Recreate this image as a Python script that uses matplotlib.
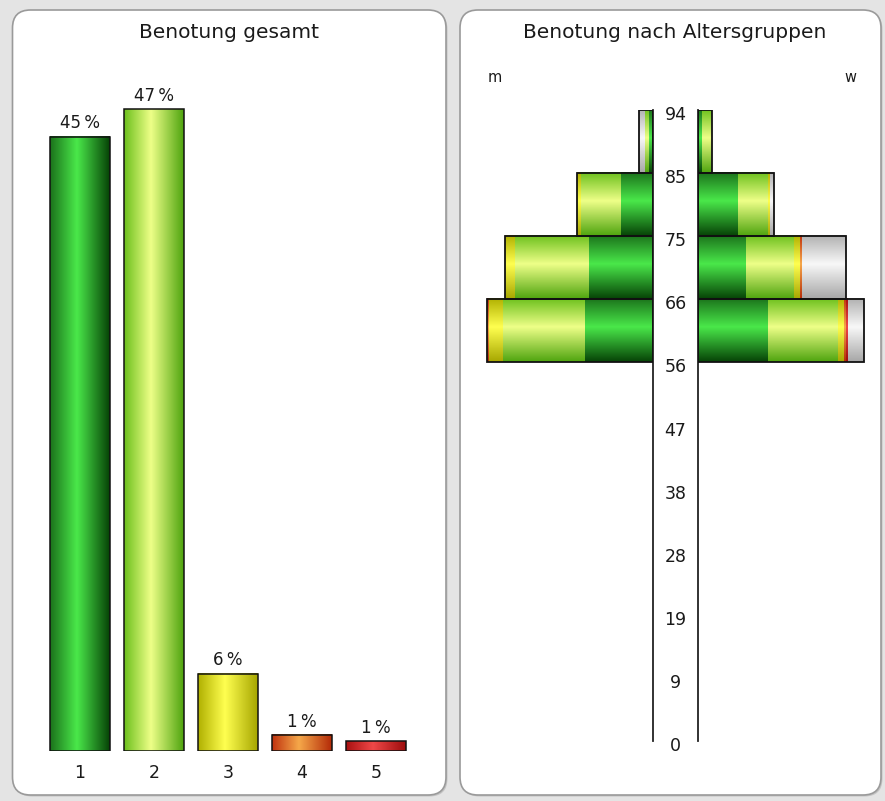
import numpy as np
import matplotlib
matplotlib.use('Agg')
import matplotlib.pyplot as plt
from matplotlib.colors import LinearSegmentedColormap
from matplotlib.patches import FancyBboxPatch, Rectangle
from matplotlib import transforms

# overall grade distribution (percent)
grades = ['1', '2', '3', '4', '5']
share_total = [45.2, 47.2, 5.7, 1.2, 0.7]

# age axis: 0..94 split into 10 bins, only the upper four are populated
age_max = 94
n_bins = 10
age_ticks = [0, 9, 19, 28, 38, 47, 56, 66, 75, 85, 94]
group_bins = [6, 7, 8, 9]

# counts per age group (bottom to top), one list per grade, "k" = no grade
m_g1 = [34, 32, 16, 2]
m_g2 = [41, 37, 20, 2]
m_g3 = [7, 5, 2, 0]
m_g4 = [1, 0, 0, 0]
m_g5 = [0, 0, 0, 0]
m_k = [0, 0, 0, 3]

w_g1 = [35, 24, 20, 2]
w_g2 = [35, 24, 15, 5]
w_g3 = [3, 3, 1, 0]
w_g4 = [1, 1, 0, 0]
w_g5 = [1, 0, 0, 0]
w_k = [8, 22, 2, 0]

# gradient stops per grade: edge, highlight, far edge
stops = {
    '1': ['#1b721b', '#4ae84a', '#064206'],
    '2': ['#6cc01c', '#eeff88', '#4ea40e'],
    '3': ['#b0b000', '#ffff50', '#a6a600'],
    '4': ['#c0320e', '#f6a84a', '#b42a08'],
    '5': ['#a81010', '#f04848', '#9c0c0c'],
    'k': ['#b0b0b0', '#f8f8f8', '#a6a6a6'],
}
cmaps = {k: LinearSegmentedColormap.from_list(k, list(zip([0, 0.45, 1], v)))
         for k, v in stops.items()}

TXT = '#1a1a1a'
W, H = 885, 801
fig = plt.figure(figsize=(W / 100, H / 100), dpi=100)
fig.patch.set_facecolor('#e4e4e4')

# pixel-space background axes for the two panels and titles
bg = fig.add_axes([0, 0, 1, 1])
bg.set_xlim(0, W)
bg.set_ylim(H, 0)
bg.axis('off')
bg.set_zorder(-1)
for x0, x1 in [(12.5, 446), (460, 881)]:
    sh = FancyBboxPatch((x0 + 1.5, 11.5), x1 - x0, 785, boxstyle='round,pad=0,rounding_size=18',
                        fc='#c4c4c4', ec='none')
    bg.add_patch(sh)
    p = FancyBboxPatch((x0, 10), x1 - x0, 785, boxstyle='round,pad=0,rounding_size=18',
                       fc='white', ec='#9a9a9a', lw=1.2)
    bg.add_patch(p)
bg.text(229, 33, 'Benotung gesamt', ha='center', va='center', fontsize=14.5, color=TXT)
bg.text(675, 33, 'Benotung nach Altersgruppen', ha='center', va='center', fontsize=14.5, color=TXT)
bg.text(495, 78, 'm', ha='center', va='center', fontsize=10.5, color=TXT)
bg.text(850, 78, 'w', ha='center', va='center', fontsize=10.5, color=TXT)


def grad_rect(ax, x0, x1, y0, y1, key, vertical):
    g = np.linspace(0, 1, 256)
    img = g.reshape(-1, 1) if vertical else g.reshape(1, -1)
    ax.imshow(img, cmap=cmaps[key], extent=(x0, x1, y0, y1), aspect='auto',
              interpolation='bilinear', origin='upper', zorder=2)


# --- left: overall grades ---
scale = 13.593
ax1 = fig.add_axes([43 / W, 50 / H, 370 / W, 50 * scale / H])
ax1.set_facecolor('none')
bw = 0.8
for i, (g, v) in enumerate(zip(grades, share_total)):
    x = i + 1
    grad_rect(ax1, x - bw / 2, x + bw / 2, 0, v, g, vertical=False)
    ax1.add_patch(Rectangle((x - bw / 2, 0), bw, v, fill=False, ec='#111111', lw=1.1, zorder=3))
    ax1.annotate(f'{round(v)}\u2009%', (x, v), xytext=(0, 3), textcoords='offset points',
                 ha='center', va='bottom', fontsize=12, color=TXT)
ax1.set_xlim(0.5, 5.5)
ax1.set_ylim(0, 50)
ax1.set_xticks(range(1, 6), grades, fontsize=12.5)
ax1.set_yticks([])
ax1.tick_params(axis='x', length=0, pad=9, colors=TXT)
for s in ax1.spines.values():
    s.set_visible(False)

# --- right: population-pyramid style, m left / w right ---
ppu = 2.0  # pixels per count
axm = fig.add_axes([(653.3 - 90 * ppu) / W, 60 / H, 90 * ppu / W, 631 / H])
axw = fig.add_axes([697.7 / W, 60 / H, 90 * ppu / W, 631 / H])
bin_w = age_max / n_bins
m_sets = [m_g1, m_g2, m_g3, m_g4, m_g5, m_k]
w_sets = [w_g1, w_g2, w_g3, w_g4, w_g5, w_k]
keys = ['1', '2', '3', '4', '5', 'k']
for ax, sets in [(axm, m_sets), (axw, w_sets)]:
    ax.set_facecolor('none')
    for r, b in enumerate(group_bins):
        y0, y1 = b * bin_w, (b + 1) * bin_w
        left = 0
        for key, vals in zip(keys, sets):
            if vals[r] > 0:
                grad_rect(ax, left, left + vals[r], y0, y1, key, vertical=True)
                left += vals[r]
        ax.add_patch(Rectangle((0, y0), left, y1 - y0, fill=False, ec='#111111', lw=1.3, zorder=3))
    ax.set_ylim(0, age_max)
    ax.set_xticks([])
    ax.set_yticks([])
    for s in ax.spines.values():
        s.set_visible(False)
axm.set_xlim(90, 0)
axw.set_xlim(0, 90)
axm.spines['right'].set_visible(True)
axw.spines['left'].set_visible(True)
for ax, side in [(axm, 'right'), (axw, 'left')]:
    ax.spines[side].set_color('#222222')
    ax.spines[side].set_linewidth(1.3)

# age labels between the two halves
off = transforms.offset_copy(axw.transData, fig=fig, x=0, y=-5, units='dots')
gap = (697.7 - 653.3) / ppu
for k, lab in enumerate(age_ticks):
    axw.text(-gap / 2, k * bin_w, str(lab), transform=off, ha='center', va='center',
             fontsize=12.5, color=TXT, clip_on=False)

fig.savefig('out.png', dpi=100, facecolor=fig.get_facecolor())
